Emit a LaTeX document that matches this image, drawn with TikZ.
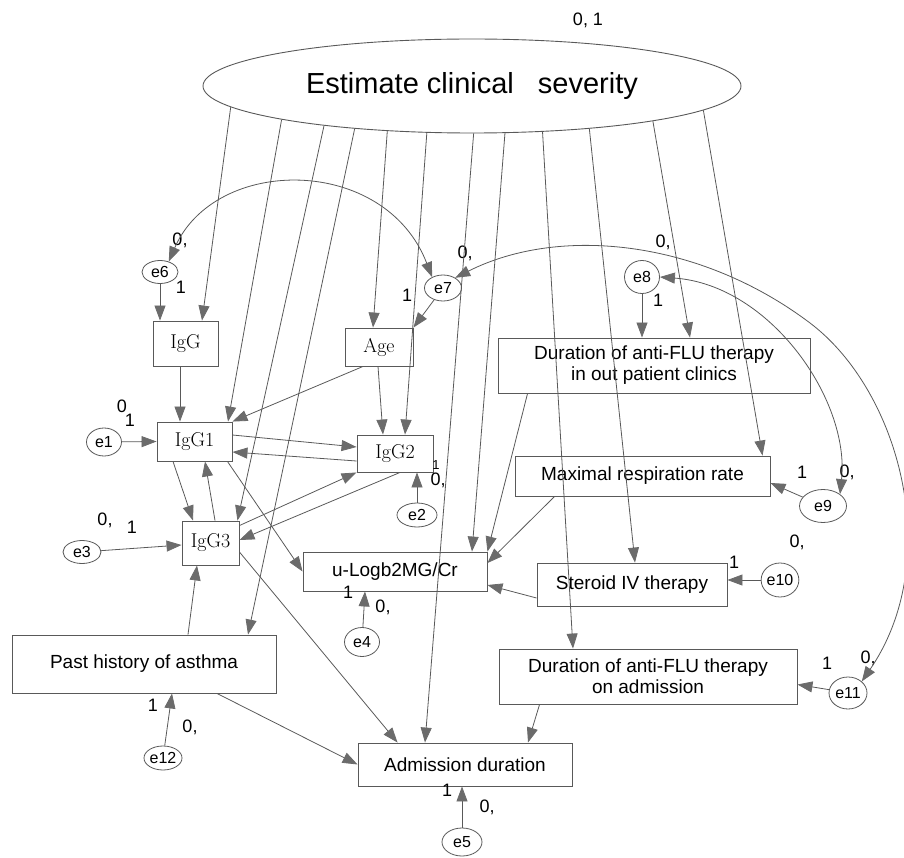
\documentclass[tikz,border=0pt]{standalone}
\usepackage{fontspec}
\newfontfamily\lsans{Liberation Sans}
\usetikzlibrary{arrows.meta,shapes.geometric}
\begin{document}
\begin{tikzpicture}[x=1pt,y=-1pt,
  >={Triangle[length=15pt,width=11pt,color=black!58]},
  ln/.style={draw=black!65, line width=0.8pt},
  box/.style={draw=black!65, line width=0.9pt, rectangle, inner sep=0pt, align=center,
    font=\lsans\fontsize{19}{21}\selectfont},
  sbox/.style={box, font=\fontsize{20}{22}\selectfont},
  err/.style={draw=black!65, line width=0.8pt, ellipse, inner sep=0pt,
    font=\lsans\fontsize{16}{16}\selectfont},
  lab/.style={inner sep=0pt, font=\lsans\fontsize{18}{18}\selectfont},
  slab/.style={inner sep=0pt, font=\lsans\fontsize{13}{13}\selectfont}]
\useasboundingbox (0,0) rectangle (904,858);

% latent variable
\node[draw=black!65, line width=0.9pt, ellipse, minimum width=538pt, minimum height=94pt, inner sep=0pt,
  font=\lsans\fontsize{29}{30}\selectfont] (E) at (472,86) {Estimate clinical\hspace{16pt} severity};
\node[lab] (l01) at (588,20) {0, 1};

% observed variables
\node[sbox, minimum width=65pt, minimum height=45pt] (IgG) at (185.5,343.5) {IgG};
\node[sbox, minimum width=68pt, minimum height=38pt] (Age) at (379,347) {Age};
\node[sbox, minimum width=75pt, minimum height=39pt] (IgG1) at (194.5,441.5) {IgG1};
\node[sbox, minimum width=76pt, minimum height=37pt] (IgG2) at (395,453.5) {IgG2};
\node[sbox, minimum width=57pt, minimum height=44pt] (IgG3) at (210.5,543) {IgG3};
\node[box, minimum width=184pt, minimum height=39pt] (uLog) at (395,571.5) {u-Logb2MG/Cr};
\node[box, minimum width=264pt, minimum height=58pt] (Past) at (144,664) {Past history of asthma};
\node[box, minimum width=214pt, minimum height=43pt] (Adm) at (465,764.5) {Admission duration};
\node[box, minimum width=312pt, minimum height=55pt] (DurOut) at (654,365.5) {Duration of anti-FLU therapy\\in out patient clinics};
\node[box, minimum width=255pt, minimum height=40pt] (Max) at (642.5,476) {Maximal respiration rate};
\node[box, minimum width=190pt, minimum height=43pt] (Ster) at (632,584.5) {Steroid IV therapy};
\node[box, minimum width=298pt, minimum height=55pt] (DurAdm) at (648,676.5) {Duration of anti-FLU therapy\\on admission};

% error terms
\node[err, minimum width=36pt, minimum height=23pt] (e6) at (160,272) {e6};
\node[err, minimum width=37pt, minimum height=26pt] (e7) at (443,288) {e7};
\node[err, minimum width=35pt, minimum height=33pt] (e8) at (642,277) {e8};
\node[err, minimum width=35pt, minimum height=28pt] (e1) at (104,442) {e1};
\node[err, minimum width=40pt, minimum height=24pt] (e2) at (417,515) {e2};
\node[err, minimum width=38pt, minimum height=23pt] (e3) at (82,552) {e3};
\node[err, minimum width=35pt, minimum height=29pt] (e4) at (362,642) {e4};
\node[err, minimum width=40pt, minimum height=28pt] (e5) at (462,842) {e5};
\node[err, minimum width=47pt, minimum height=33pt] (e9) at (823,506) {e9};
\node[err, minimum width=35pt, minimum height=34pt] (e10) at (780,580) {e10};
\node[err, minimum width=38pt, minimum height=32pt] (e11) at (848,693) {e11};
\node[err, minimum width=38pt, minimum height=24pt] (e12) at (163,758) {e12};

% labels
\node[lab] at (180,240) {0,};
\node[lab] at (181,287) {1};
\node[lab] at (465,253) {0,};
\node[lab] at (407,295) {1};
\node[lab] at (663,242) {0,};
\node[lab] at (658,300) {1};
\node[lab] at (122,406) {0};
\node[lab] at (130,420) {1};
\node[slab] at (436,465) {1};
\node[lab] at (438,480) {0,};
\node[lab] at (105,520) {0,};
\node[lab] at (132,527) {1};
\node[lab] at (348,592) {1};
\node[lab] at (383,607) {0,};
\node[lab] at (447,790) {1};
\node[lab] at (487,807) {0,};
\node[lab] at (802,472) {1};
\node[lab] at (847,472) {0,};
\node[lab] at (797,542) {0,};
\node[lab] at (734,562) {1};
\node[lab] at (827,663) {1};
\node[lab] at (868,658) {0,};
\node[lab] at (153,705) {1};
\node[lab] at (190,727) {0,};

% latent -> observed
\draw[ln,->] (E.185) -- ([xshift=16.5pt]IgG.north);
\draw[ln,->] (E.190) -- ([xshift=33.5pt]IgG1.north);
\draw[ln,->] (E.195) -- ([xshift=-2pt]IgG3.north east);
\draw[ln,->] (E.200) -- ([xshift=104pt]Past.north);
\draw[ln,->] (E.208) -- ([xshift=-6pt]Age.north);
\draw[ln,->] (E.226) -- ([xshift=10pt]IgG2.north);
\draw[ln,->] (E.272) -- ([xshift=-40pt]Adm.north);
\draw[ln,->] (E.305) -- ([xshift=77pt]uLog.north);
\draw[ln,->] (E.327) -- ([xshift=-75pt]DurAdm.north);
\draw[ln,->] (E.340) -- ([xshift=3pt]Ster.north);
\draw[ln,->] (E.349) -- ([xshift=36pt]DurOut.north);
\draw[ln,->] (E.354) -- ([xshift=120pt]Max.north);

% errors -> observed
\draw[ln,->] (e6) -- (e6 |- IgG.north);
\draw[ln,->] (e7) -- (Age.north east);
\draw[ln,->] (e8) -- (e8 |- DurOut.north);
\draw[ln,->] (e1) -- (IgG1.west);
\draw[ln,->] (e2) -- (e2 |- IgG2.south);
\draw[ln,->] (e3) -- ([yshift=-2pt]IgG3.west);
\draw[ln,->] (e4) -- ([xshift=-30pt]uLog.south);
\draw[ln,->] (e5) -- ([xshift=-3pt]Adm.south);
\draw[ln,->] (e12) -- ([xshift=28pt]Past.south);
\draw[ln,->] (e9) -- ([yshift=-7pt]Max.east);
\draw[ln,->] (e10) -- ([yshift=4.5pt]Ster.east);
\draw[ln,->] (e11.170) -- ([yshift=-8pt]DurAdm.east);

% observed -> observed
\draw[ln,->] ([xshift=-5.5pt]IgG.south) -- ([xshift=-14.5pt]IgG1.north);
\draw[ln,->] ([xshift=-16pt]Age.south) -- (IgG1.north east);
\draw[ln,->] ([xshift=-1pt]Age.south) -- ([xshift=-12pt]IgG2.north);
\draw[ln,->] ([yshift=6.5pt]IgG1.east) -- ([yshift=6.5pt]IgG2.west);
\draw[ln,->] ([yshift=-7.5pt]IgG2.west) -- ([yshift=-10.5pt]IgG1.east);
\draw[ln,->] ([xshift=-21.5pt]IgG1.south) -- ([xshift=-17.5pt]IgG3.north);
\draw[ln,->] ([xshift=4.5pt]IgG3.north) -- ([xshift=10.5pt]IgG1.south);
\draw[ln,->] ([yshift=-5pt]IgG3.north east) -- (IgG2.south west);
\draw[ln,->] ([xshift=5pt]IgG2.south) -- ([yshift=3pt]IgG3.east);
\draw[ln,->] ([xshift=-5pt]IgG1.south east) -- (uLog.west);
\draw[ln,->] ([yshift=-9pt]IgG3.east) -- ([xshift=40pt]Adm.north west);
\draw[ln,->] ([xshift=44pt]Past.north) -- ([xshift=-13.5pt]IgG3.south);
\draw[ln,->] ([xshift=73pt]Past.south) -- (Adm.west);
\draw[ln,->] ([xshift=30pt]DurOut.south west) -- (uLog.north east);
\draw[ln,->] ([xshift=40pt]Max.south west) -- ([yshift=8.5pt]uLog.east);
\draw[ln,->] ([yshift=-13.5pt]Ster.west) -- ([yshift=-13.5pt]uLog.east);
\draw[ln,->] ([xshift=41pt]DurAdm.south west) -- ([xshift=63pt]Adm.north);

% covariances
\draw[ln,<->] (e6.50) .. controls (215,155) and (385,155) .. (e7.135);
\coordinate (k1) at (810,323);
\draw[ln,<->] (e7.40) .. controls (560,225) and (700,240) .. (k1)
  .. controls (900,391) and (945,560) .. (e11.40);
\draw[ln,<->] (e8.east) .. controls (770,285) and (850,400) .. (e9.35);
\end{tikzpicture}
\end{document}
